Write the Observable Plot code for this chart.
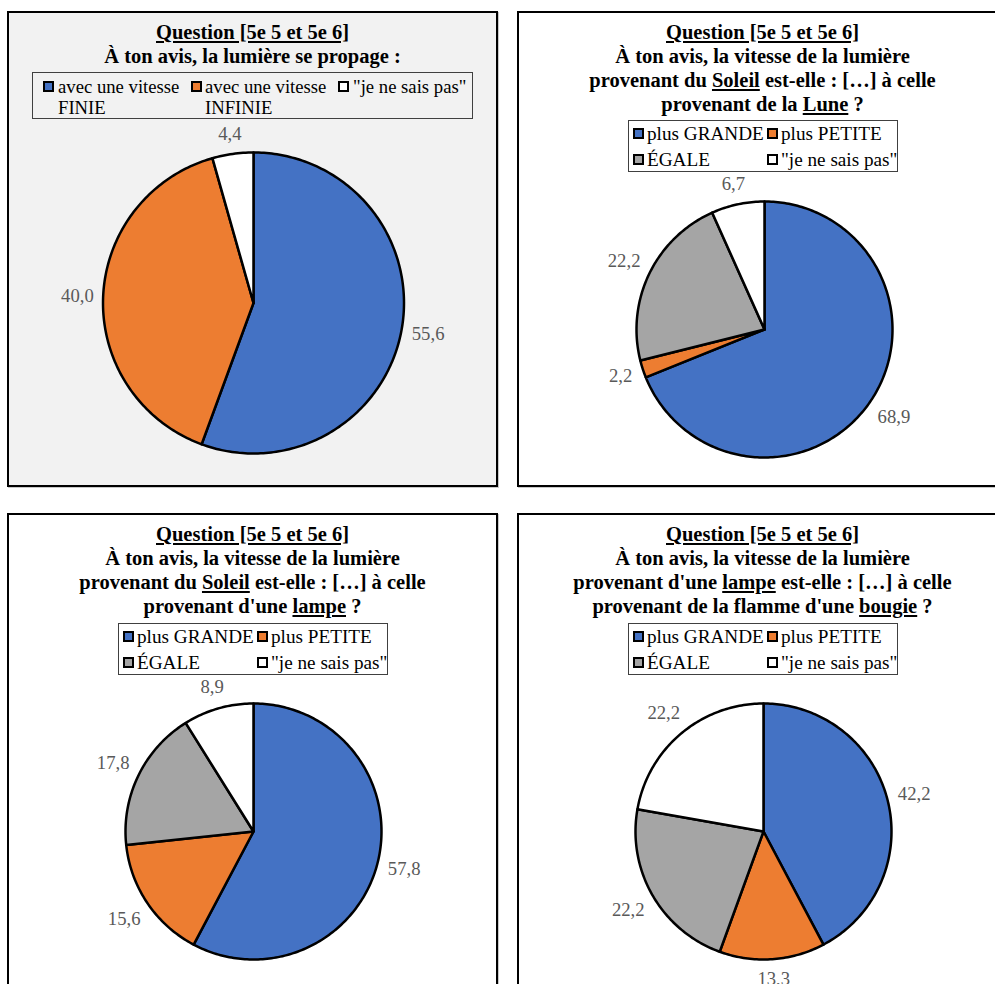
<!DOCTYPE html>
<html><head><meta charset="utf-8">
<script src="https://cdn.jsdelivr.net/npm/d3@7"></script>
<script src="https://cdn.jsdelivr.net/npm/@observablehq/plot@0.6"></script>
<style>
html,body{margin:0;padding:0;background:#fff;}
#page{position:relative;width:995px;height:984px;overflow:hidden;font-family:"Liberation Serif","Times New Roman",serif;}
.panel{position:absolute;box-sizing:border-box;width:491px;height:476px;border:2px solid #000;box-shadow:1px 1px 0 #c8c8c8;background:#fff;}
.panel svg{position:absolute;left:0;top:0;}
.title{position:absolute;left:0;right:0;top:7px;text-align:center;font-weight:bold;font-size:20.5px;line-height:24px;color:#000;white-space:nowrap;}
.legend{position:absolute;border:1px solid #404040;box-sizing:border-box;font-size:18.7px;color:#000;}
.legend.four{font-size:19.2px;}
.item{position:absolute;white-space:nowrap;line-height:21px;}
.sw{position:absolute;box-sizing:border-box;width:11px;height:11px;border:2px solid #000;}
</style>
</head><body>
<div id="page"></div>
<script>
// ---- data ----
const catsVitesse = ["avec une vitesse FINIE", "avec une vitesse INFINIE", "\"je ne sais pas\""];
const legendVitesse = ["avec une vitesse<br>FINIE", "avec une vitesse<br>INFINIE", "\"je ne sais pas\""];
const valsPropage = [55.6, 40.0, 4.4];
const catsCompare = ["plus GRANDE", "plus PETITE", "ÉGALE", "\"je ne sais pas\""];
const valsSoleilLune = [68.9, 2.2, 22.2, 6.7];
const valsSoleilLampe = [57.8, 15.6, 17.8, 8.9];
const valsLampeBougie = [42.2, 13.3, 22.2, 22.2];
const colorsVitesse = ["#4472C4", "#ED7D31", "#FFFFFF"];
const colorsCompare = ["#4472C4", "#ED7D31", "#A5A5A5", "#FFFFFF"];
const titlePropage = ["<u>Question [5e 5 et 5e 6]</u>", "À ton avis, la lumière se propage :"];
const titleSoleilLune = ["<u>Question [5e 5 et 5e 6]</u>", "À ton avis, la vitesse de la lumière", "provenant du <u>Soleil</u> est-elle : […] à celle", "provenant de la <u>Lune</u> ?"];
const titleSoleilLampe = ["<u>Question [5e 5 et 5e 6]</u>", "À ton avis, la vitesse de la lumière", "provenant du <u>Soleil</u> est-elle : […] à celle", "provenant d'une <u>lampe</u> ?"];
const titleLampeBougie = ["<u>Question [5e 5 et 5e 6]</u>", "À ton avis, la vitesse de la lumière", "provenant d'une <u>lampe</u> est-elle : […] à celle", "provenant de la flamme d'une <u>bougie</u> ?"];

// ---- rendering ----
const page = document.getElementById("page");
const W = 487, H = 472;
const labelFont = "18.7px 'Liberation Serif'";
const ctx = document.createElement("canvas").getContext("2d");
ctx.font = labelFont;

function piePlot(cats, vals, cols, cx, cy, r) {
  const arcs = d3.pie().sort(null).value(d => d)(vals);
  const pts = [];
  const labels = [];
  arcs.forEach((a, i) => {
    const n = Math.max(2, Math.ceil((a.endAngle - a.startAngle) / (Math.PI / 180)));
    pts.push({cat: cats[i], x: 0, y: 0});
    for (let k = 0; k <= n; k++) {
      const t = a.startAngle + (a.endAngle - a.startAngle) * k / n;
      pts.push({cat: cats[i], x: Math.sin(t), y: Math.cos(t)});
    }
    pts.push({cat: cats[i], x: 0, y: 0});
    const m = (a.startAngle + a.endAngle) / 2;
    const text = vals[i].toFixed(1).replace(".", ",");
    const hw = ctx.measureText(text).width / 2, hh = 10;
    const d = r + 9 + hw * Math.abs(Math.sin(m)) + hh * Math.abs(Math.cos(m));
    labels.push({x: Math.sin(m) * d / r, y: Math.cos(m) * d / r, text});
  });
  return Plot.plot({
    width: W, height: H, margin: 0,
    x: {domain: [-1, 1], range: [cx - r, cx + r], axis: null},
    y: {domain: [-1, 1], range: [cy + r, cy - r], axis: null},
    color: {domain: cats, range: cols},
    style: {background: "transparent", fontFamily: "'Liberation Serif', serif", overflow: "visible"},
    marks: [
      Plot.line(pts, {x: "x", y: "y", z: "cat", fill: "cat", stroke: "#000", strokeWidth: 2.5, strokeLinejoin: "round", curve: "linear"}),
      Plot.text(labels, {x: "x", y: "y", text: "text", fill: "#595959", fontSize: 18.7})
    ]
  });
}

function panel(opts) {
  const p = document.createElement("div");
  p.className = "panel";
  p.style.left = opts.left + "px";
  p.style.top = opts.top + "px";
  if (opts.bg) p.style.background = opts.bg;
  page.appendChild(p);
  p.appendChild(piePlot(opts.cats, opts.vals, opts.cols, opts.cx, opts.cy, opts.r));
  const t = document.createElement("div");
  t.className = "title";
  t.innerHTML = opts.title.join("<br>");
  p.appendChild(t);
  const lg = document.createElement("div");
  lg.className = "legend" + (opts.cats.length === 4 ? " four" : "");
  Object.assign(lg.style, {left: opts.legend.left + "px", top: opts.legend.top + "px", width: opts.legend.width + "px", height: opts.legend.height + "px"});
  opts.legend.items.forEach((it, i) => {
    const sw = document.createElement("div");
    sw.className = "sw";
    sw.style.left = it.sx + "px";
    sw.style.top = (it.cy - 6) + "px";
    sw.style.background = opts.cols[i];
    lg.appendChild(sw);
    const tx = document.createElement("div");
    tx.className = "item";
    tx.style.left = it.tx + "px";
    tx.style.top = (it.cy - 11) + "px";
    tx.innerHTML = opts.legendLabels[i];
    lg.appendChild(tx);
  });
  p.appendChild(lg);
}

const legend4 = {left: 109, top: 107, width: 270, height: 52, items: [
  {sx: 4, tx: 18, cy: 13}, {sx: 138, tx: 152, cy: 13}, {sx: 4, tx: 18, cy: 39}, {sx: 138, tx: 152, cy: 39}
]};

panel({left: 7, top: 11, bg: "#f2f2f2", cats: catsVitesse, vals: valsPropage, cols: colorsVitesse,
  cx: 244, cy: 289.5, r: 150.5, title: titlePropage, legendLabels: legendVitesse,
  legend: {left: 23, top: 59, width: 441, height: 47, items: [
    {sx: 10, tx: 25, cy: 14}, {sx: 158, tx: 172, cy: 14}, {sx: 305, tx: 320, cy: 14}
  ]}});
panel({left: 517, top: 11, cats: catsCompare, vals: valsSoleilLune, cols: colorsCompare,
  cx: 245, cy: 316, r: 128, title: titleSoleilLune, legendLabels: catsCompare, legend: legend4});
panel({left: 7, top: 513, cats: catsCompare, vals: valsSoleilLampe, cols: colorsCompare,
  cx: 244, cy: 316, r: 128, title: titleSoleilLampe, legendLabels: catsCompare, legend: Object.assign({}, legend4, {top: 108})});
panel({left: 517, top: 513, cats: catsCompare, vals: valsLampeBougie, cols: colorsCompare,
  cx: 244, cy: 316, r: 128, title: titleLampeBougie, legendLabels: catsCompare, legend: Object.assign({}, legend4, {top: 108})});
</script>
</body></html>
